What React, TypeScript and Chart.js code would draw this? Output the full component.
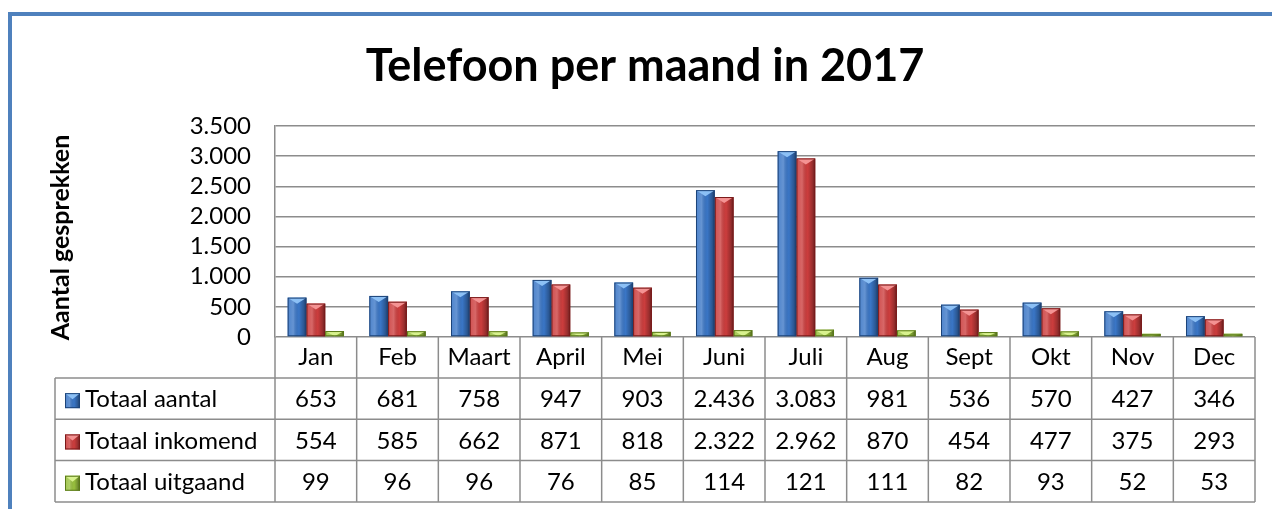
import React, { useEffect, useRef } from 'react';
import { Chart, registerables } from 'chart.js';

Chart.register(...registerables);

const TITLE = 'Telefoon per maand in 2017';
const Y_TITLE = 'Aantal gesprekken';
const categories = ['Jan', 'Feb', 'Maart', 'April', 'Mei', 'Juni', 'Juli', 'Aug', 'Sept', 'Okt', 'Nov', 'Dec'];
const seriesNames = ['Totaal aantal', 'Totaal inkomend', 'Totaal uitgaand'];
const totaalAantal = [653, 681, 758, 947, 903, 2436, 3083, 981, 536, 570, 427, 346];
const totaalInkomend = [554, 585, 662, 871, 818, 2322, 2962, 870, 454, 477, 375, 293];
const totaalUitgaand = [99, 96, 96, 76, 85, 114, 121, 111, 82, 93, 52, 53];
const Y_MIN = 0;
const Y_MAX = 3500;
const Y_STEP = 500;

const FONT = 'Lato, "Liberation Sans", sans-serif';

const seriesStyles = [
  { base: '#3a76c6', dark: '#1d4479', light: '#8cc0f5' },
  { base: '#cc3d3d', dark: '#7a1a1a', light: '#f49393' },
  { base: '#99c13e', dark: '#5a7a18', light: '#d8f28e' },
];

function fmt(n: number): string {
  return String(n).replace(/\B(?=(\d{3})+(?!\d))/g, '.');
}

const W = 1272;
const H = 509;
const TABLE_LEFT = 55;
const ROW_H = 41.3;
const GRID = '#8c8c8c';

function drawBarShading(ctx: CanvasRenderingContext2D, left: number, top: number, w: number, h: number, st: { base: string; dark: string; light: string }) {
  if (h <= 0) return;
  const g = ctx.createLinearGradient(left, 0, left + w, 0);
  g.addColorStop(0, 'rgba(255,255,255,0.10)');
  g.addColorStop(0.3, 'rgba(255,255,255,0.22)');
  g.addColorStop(0.6, 'rgba(0,0,0,0.0)');
  g.addColorStop(0.85, 'rgba(0,0,0,0.25)');
  g.addColorStop(1, 'rgba(0,0,0,0.5)');
  ctx.fillStyle = g;
  ctx.fillRect(left, top, w, h);
  const capH = Math.min(6, h);
  ctx.fillStyle = st.light;
  ctx.beginPath();
  ctx.moveTo(left, top);
  ctx.lineTo(left + w, top);
  ctx.lineTo(left + w / 2, top + capH);
  ctx.closePath();
  ctx.fill();
  ctx.strokeStyle = st.dark;
  ctx.lineWidth = 1;
  ctx.strokeRect(left + 0.5, top + 0.5, w - 1, h - 1);
}

const decorPlugin = {
  id: 'decor',
  beforeDraw(chart: any) {
    const ctx = chart.ctx as CanvasRenderingContext2D;
    ctx.save();
    ctx.fillStyle = '#ffffff';
    ctx.fillRect(0, 0, chart.width, chart.height);
    ctx.strokeStyle = '#4f81bd';
    ctx.lineWidth = 4;
    ctx.beginPath();
    ctx.moveTo(10, H + 10);
    ctx.lineTo(10, 14);
    ctx.lineTo(W + 10, 14);
    ctx.stroke();
    ctx.restore();
  },
  afterDatasetsDraw(chart: any) {
    const ctx = chart.ctx as CanvasRenderingContext2D;
    ctx.save();
    chart.data.datasets.forEach((_: any, di: number) => {
      const meta = chart.getDatasetMeta(di);
      meta.data.forEach((el: any) => {
        const p = el.getProps(['x', 'y', 'base', 'width'], true);
        const left = p.x - p.width / 2;
        const top = Math.min(p.y, p.base);
        const h = Math.abs(p.base - p.y);
        drawBarShading(ctx, left, top, p.width, h, seriesStyles[di]);
      });
    });
    ctx.restore();
  },
  afterDraw(chart: any) {
    const ctx = chart.ctx as CanvasRenderingContext2D;
    const xs = chart.scales.x;
    const area = chart.chartArea;
    const n = categories.length;
    const colW = (area.right - area.left) / n;
    const rowsTop = xs.bottom;
    const series = [totaalAantal, totaalInkomend, totaalUitgaand];
    const tableBottom = rowsTop + ROW_H * series.length;
    ctx.save();
    ctx.strokeStyle = GRID;
    ctx.lineWidth = 1.5;
    for (let i = 0; i <= n; i++) {
      const x = area.left + colW * i;
      ctx.beginPath();
      ctx.moveTo(x, area.bottom);
      ctx.lineTo(x, tableBottom);
      ctx.stroke();
    }
    for (let r = 0; r <= series.length; r++) {
      const y = rowsTop + ROW_H * r;
      ctx.beginPath();
      ctx.moveTo(TABLE_LEFT, y);
      ctx.lineTo(area.right, y);
      ctx.stroke();
    }
    ctx.beginPath();
    ctx.moveTo(TABLE_LEFT, rowsTop);
    ctx.lineTo(TABLE_LEFT, tableBottom);
    ctx.stroke();

    ctx.fillStyle = '#000';
    ctx.textBaseline = 'middle';
    series.forEach((vals, r) => {
      const cy = rowsTop + ROW_H * r + ROW_H / 2 + 1;
      ctx.font = `24px ${FONT}`;
      ctx.textAlign = 'center';
      ctx.fillStyle = '#000';
      vals.forEach((v, i) => {
        ctx.fillText(fmt(v), xs.getPixelForValue(i), cy);
      });
      const st = seriesStyles[r];
      const mx = TABLE_LEFT + 10;
      const ms = 15;
      const my = cy - ms / 2 + 1;
      ctx.fillStyle = st.base;
      ctx.fillRect(mx, my, ms, ms);
      drawBarShading(ctx, mx, my, ms, ms, st);
      ctx.fillStyle = '#000';
      ctx.textAlign = 'left';
      ctx.font = `24px ${FONT}`;
      ctx.fillText(seriesNames[r], mx + ms + 5, cy);
    });

    ctx.translate(61, (area.top + area.bottom) / 2 + 6);
    ctx.rotate(-Math.PI / 2);
    ctx.font = `bold 25px ${FONT}`;
    ctx.textAlign = 'center';
    ctx.textBaseline = 'middle';
    ctx.fillStyle = '#000';
    ctx.fillText(Y_TITLE, 0, 0);
    ctx.restore();
  },
};

export default function App() {
  const ref = useRef<HTMLCanvasElement | null>(null);
  useEffect(() => {
    if (!ref.current) return;
    const datasets = [totaalAantal, totaalInkomend, totaalUitgaand].map((d, i) => ({
      label: seriesNames[i],
      data: d,
      backgroundColor: seriesStyles[i].base,
      borderWidth: 0,
      categoryPercentage: 0.69,
      barPercentage: 1.0,
    }));
    const chart = new Chart(ref.current, {
      type: 'bar',
      data: { labels: categories, datasets },
      options: {
        responsive: false,
        animation: false,
        devicePixelRatio: 1,
        layout: { padding: { left: 35, right: 17, top: 0, bottom: 131 } },
        plugins: {
          legend: { display: false },
          tooltip: { enabled: false },
          title: {
            display: true,
            text: TITLE,
            color: '#000',
            font: { family: FONT, size: 45, weight: 'bold', lineHeight: 1.2 },
            padding: { top: 39, bottom: 33 },
          },
        },
        scales: {
          x: {
            grid: { display: false, drawTicks: false },
            border: { display: false },
            ticks: { font: { family: FONT, size: 24 }, color: '#000', padding: 6, maxRotation: 0, autoSkip: false },
            afterFit: (s: any) => { s.height = 41; },
          },
          y: {
            min: Y_MIN,
            max: Y_MAX,
            ticks: { stepSize: Y_STEP, autoSkip: false, callback: (v: any) => fmt(Number(v)), font: { family: FONT, size: 24, lineHeight: 1 }, color: '#000', padding: 24 },
            grid: { color: GRID, lineWidth: 1.5, drawTicks: false },
            border: { color: GRID, width: 1.5 },
            afterFit: (s: any) => { s.width = 240; },
          },
        },
      } as any,
      plugins: [decorPlugin],
    });
    return () => chart.destroy();
  }, []);
  return (
    <div style={{ position: 'fixed', left: 0, top: 0, width: W, height: H, background: '#fff' }}>
      <canvas ref={ref} width={W} height={H} style={{ width: W, height: H, display: 'block' }} />
    </div>
  );
}
